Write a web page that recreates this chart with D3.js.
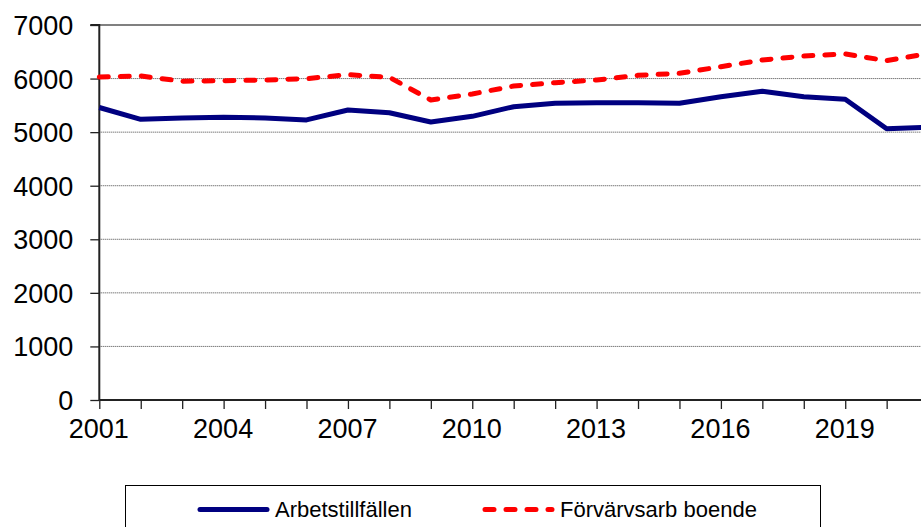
<!DOCTYPE html>
<html><head><meta charset="utf-8">
<script src="https://cdn.jsdelivr.net/npm/d3@7/dist/d3.min.js"></script>
<style>body{margin:0;background:#fff}svg{display:block}text{font-family:"Liberation Sans",Arial,sans-serif;fill:#000}</style>
</head><body><svg id="c" width="921" height="527"></svg>
<script>
const years = [2001,2002,2003,2004,2005,2006,2007,2008,2009,2010,2011,2012,2013,2014,2015,2016,2017,2018,2019,2020,2021];
const arbetstillfallen = [5460,5240,5265,5277,5265,5228,5413,5363,5190,5295,5475,5538,5550,5550,5538,5662,5762,5662,5613,5064,5090];
const forvarvsarb = [6028,6048,5950,5960,5973,5998,6073,6024,5600,5712,5861,5923,5973,6060,6098,6222,6347,6421,6459,6334,6465];
const yTicks = [0,1000,2000,3000,4000,5000,6000,7000];
const xLabelYears = [2001,2004,2007,2010,2013,2016,2019];
const seriesNames = ["Arbetstillfällen","Förvärvsarb boende"];

const svg = d3.select("#c");
const x = d3.scaleLinear().domain([2001,2021]).range([99.3,928.1]);
const y = d3.scaleLinear().domain([0,7000]).range([400,25]);

// gridlines
svg.append("g").selectAll("line").data(yTicks.filter(d=>d>0&&d<7000)).join("line")
  .attr("x1",x(2001)).attr("x2",930).attr("y1",d=>y(d)).attr("y2",d=>y(d))
  .attr("stroke","#444").attr("stroke-width",1).attr("stroke-dasharray","1,1");
// top border
svg.append("line").attr("x1",x(2001)).attr("x2",930).attr("y1",y(7000)).attr("y2",y(7000))
  .attr("stroke","#808080").attr("stroke-width",2);

// y axis
const yAxis = d3.axisLeft(y).tickValues(yTicks).tickSize(9).tickPadding(17).tickFormat(d3.format("d"));
const ga = svg.append("g").attr("transform",`translate(${x(2001)},0)`).call(yAxis);
ga.select(".domain").attr("stroke","#222").attr("stroke-width",2).attr("d",`M-9,${y(7000)}H0V${y(0)}`);
ga.selectAll(".tick line").attr("stroke","#222").attr("stroke-width",1.3);
ga.selectAll("text").style("font-size","27px").attr("dy","0.35em");

// x axis
const xAxis = d3.axisBottom(x).tickValues(years).tickSize(9).tickPadding(10)
  .tickFormat(d=>xLabelYears.includes(d)?String(d):"");
const gx = svg.append("g").attr("transform",`translate(0,${y(0)})`).call(xAxis);
gx.select(".domain").attr("stroke","#222").attr("stroke-width",2).attr("d",`M${x(2001)},0H930`);
gx.selectAll(".tick line").attr("stroke","#222").attr("stroke-width",1.3);
gx.selectAll("text").style("font-size","27px").attr("dy","0.72em").attr("transform","translate(-1,0)");

const line = d3.line().x((d,i)=>x(years[i])).y(d=>y(d));
svg.append("path").datum(arbetstillfallen).attr("d",line).attr("fill","none")
  .attr("stroke","#000080").attr("stroke-width",5).attr("stroke-linejoin","round");
svg.append("path").datum(forvarvsarb).attr("d",line).attr("fill","none")
  .attr("stroke","#ff0000").attr("stroke-width",5).attr("stroke-dasharray","9,12").attr("stroke-linecap","round").attr("stroke-linejoin","round");

// legend
svg.append("rect").attr("x",125.5).attr("y",485.5).attr("width",695).attr("height",60)
  .attr("fill","#fff").attr("stroke","#000").attr("stroke-width",1);
svg.append("line").attr("x1",200).attr("x2",267).attr("y1",509.5).attr("y2",509.5)
  .attr("stroke","#000080").attr("stroke-width",5).attr("stroke-linecap","round");
svg.append("text").attr("x",275).attr("y",517).style("font-size","22px").text(seriesNames[0]);
svg.append("line").attr("x1",485).attr("x2",552).attr("y1",509.5).attr("y2",509.5)
  .attr("stroke","#ff0000").attr("stroke-width",5).attr("stroke-linecap","round").attr("stroke-dasharray","9,12");
svg.append("text").attr("x",560).attr("y",517).style("font-size","22px").text(seriesNames[1]);
</script></body></html>
